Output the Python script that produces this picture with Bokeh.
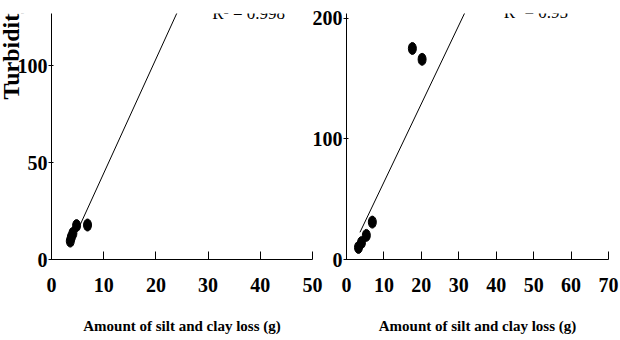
import math
from bokeh.plotting import figure
from bokeh.layouts import row
from bokeh.models import FixedTicker, Range1d
from bokeh.core.properties import value
from bokeh.embed import file_html
from bokeh.resources import INLINE

# ---------------- data ----------------
left_x = [3.6, 3.8, 4.1, 4.8, 6.9]
left_y = [9.5, 11.5, 13.5, 17.5, 17.8]
left_fit_slope = 5.9
left_fit_intercept = -14.5
left_fit_x = [5.1, 30.0]
left_r2 = "R² = 0.998"
left_xticks = [0, 10, 20, 30, 40, 50]
left_yticks = [0, 50, 100]

right_x = [3.2, 4.0, 5.3, 6.9, 17.6, 20.2]
right_y = [10, 14, 20, 31, 175, 166]
right_fit_slope = 6.5
right_fit_intercept = -0.85
right_fit_x = [3.6, 40.0]
right_r2 = "R² = 0.95"
right_xticks = [0, 10, 20, 30, 40, 50, 60, 70]
right_yticks = [0, 100, 200]

x_title = "Amount of silt and clay loss (g)"
y_title = "Turbidity (NTU)"

SERIF = "Liberation Serif"


def panel(width, bl, br, xr, yr, xticks, yticks, xs, ys, fit_x, slope, icpt, r2, r2_xy):
    p = figure(width=width, height=340, output_backend="svg", toolbar_location=None,
               x_range=Range1d(*xr), y_range=Range1d(*yr),
               min_border_left=bl, min_border_right=br, min_border_top=13, min_border_bottom=81)
    p.outline_line_color = None
    p.grid.grid_line_color = None
    p.background_fill_alpha = 0
    p.border_fill_alpha = 0
    for ax in p.xaxis:
        ax.ticker = FixedTicker(ticks=xticks)
        ax.major_tick_in = 8
        ax.major_tick_out = 0
        ax.minor_tick_line_color = None
        ax.major_label_standoff = 18
        ax.major_label_text_font = SERIF
        ax.major_label_text_font_style = "bold"
        ax.major_label_text_font_size = "20px"
        ax.axis_label = x_title
        ax.axis_label_text_font = SERIF
        ax.axis_label_text_font_style = "bold"
        ax.axis_label_text_font_size = "15px"
        ax.axis_label_standoff = 23
        ax.axis_line_color = "black"
        ax.major_tick_line_color = "black"
        ax.major_label_text_color = "black"
        ax.axis_label_text_color = "black"
    for ax in p.yaxis:
        ax.ticker = FixedTicker(ticks=yticks)
        ax.major_tick_in = 2
        ax.major_tick_out = 3
        ax.minor_tick_line_color = None
        ax.major_label_standoff = 1
        ax.major_label_text_font = SERIF
        ax.major_label_text_font_style = "bold"
        ax.major_label_text_font_size = "20px"
        ax.axis_line_color = "black"
        ax.major_tick_line_color = "black"
        ax.major_label_text_color = "black"
    fy = [slope * v + icpt for v in fit_x]
    p.line(fit_x, fy, line_color="black", line_width=1)
    p.ellipse(xs, ys, width=8, height=12, width_units="screen", height_units="screen",
              fill_color="black", line_color="black")
    p.text([r2_xy[0]], [r2_xy[1]], text=[r2], text_font=value(SERIF), text_font_size="17px",
           text_baseline="alphabetic", text_align="left", text_color="black", y_offset=-6)
    return p


# narrow strip holding the rotated y-axis title (cut at the top like the reference)
p0 = figure(width=50, height=340, output_backend="svg", toolbar_location=None,
            x_range=Range1d(0, 50), y_range=Range1d(0, 340),
            x_axis_location=None, y_axis_location=None,
            min_border=0, min_border_left=0, min_border_right=0,
            min_border_top=0, min_border_bottom=0)
p0.outline_line_color = None
p0.grid.grid_line_color = None
p0.background_fill_alpha = 0
p0.border_fill_alpha = 0
p0.text([10], [221], text=[y_title], angle=math.pi / 2, text_font=value(SERIF),
        text_font_style="bold", text_font_size="24px", text_color="black",
        text_align="left", text_baseline="alphabetic")

p1 = panel(330, 51, 18, (0, 50), (0, 127), left_xticks, left_yticks, left_x, left_y,
           left_fit_x, left_fit_slope, left_fit_intercept, left_r2, (30.8, 124.0))
p1.margin = (0, 0, 0, -50)

p2 = panel(320, 46, 12, (0, 70), (0, 204), right_xticks, right_yticks, right_x, right_y,
           right_fit_x, right_fit_slope, right_fit_intercept, right_r2, (42.0, 200.0))
p2.margin = (0, 0, 0, -30)

layout = row(p0, p1, p2)
open("out.html", "w").write(file_html(layout, INLINE))
